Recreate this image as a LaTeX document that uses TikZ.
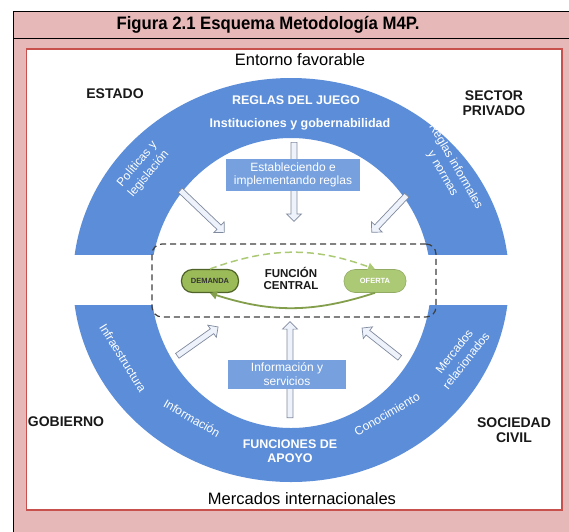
\documentclass[tikz,border=0pt]{standalone}
\usepackage{fontspec}
\setmainfont{Liberation Sans}
\newfontfamily\titlefont[FakeStretch=0.93]{Liberation Sans}
\usetikzlibrary{shapes.arrows,arrows.meta,positioning}

\definecolor{rosa}{RGB}{230,185,184}
\definecolor{rojo}{RGB}{200,80,77}
\definecolor{azul}{RGB}{91,141,216}
\definecolor{azulclaro}{RGB}{118,160,222}
\definecolor{verde}{RGB}{155,187,89}
\definecolor{verdeosc}{RGB}{79,98,40}
\definecolor{verdeclaro}{RGB}{172,201,118}
\definecolor{flechaborde}{RGB}{128,138,158}
\definecolor{flechafondo}{RGB}{238,242,250}

\tikzstyle{actor}=[align=center,
    text=black!90,
    font=\fontsize{14}{15.5}\selectfont\bfseries]
\tikzstyle{banda}=[align=center,
    text=white,
    font=\fontsize{12.5}{13.5}\selectfont\bfseries]
\tikzstyle{curva}=[align=center,
    text=white,
    inner sep=1pt,
    font=\fontsize{12}{15}\selectfont]
\tikzstyle{caja}=[rectangle,
    fill=azulclaro,
    text=white,
    align=center,
    inner sep=0pt,
    font=\fontsize{12}{13.5}\selectfont]
\tikzstyle{flecha}=[single arrow,
    draw=flechaborde,
    fill=flechafondo,
    line width=0.7pt,
    inner xsep=0pt,
    inner ysep=2.6pt,
    single arrow head extend=4.5pt,
    single arrow head indent=0pt,
    sloped,
    allow upside down,
    pos=0,
    anchor=tail]
\tikzstyle{mercado}=[rectangle,
    rounded corners=11pt,
    minimum height=23pt,
    inner sep=1pt,
    font=\fontsize{7.5}{8}\selectfont\bfseries]

\begin{document}
\begin{tikzpicture}[x=1pt,y=-1pt]
\useasboundingbox (0,0) rectangle (569,531);

% marco de la figura
\draw[fill=rosa, line width=0.8pt] (13,11) rectangle (585,545);
\draw[line width=0.8pt] (13,38) -- (585,38);
\node (titulo) at (268,25) {\titlefont\fontsize{18}{20}\selectfont\bfseries Figura 2.1 Esquema Metodología M4P.};
\draw[rojo, fill=white, line width=1.6pt] (26.5,49) rectangle (562,510);

% anillo
\fill[azul, even odd rule] (291,280) ellipse [x radius=218, y radius=202]
    (291,283) ellipse [x radius=140, y radius=145];
\fill[white] (60,255) rectangle (525,305);

% actores
\node[font=\fontsize{16.5}{18}\selectfont] (entorno) at (300,60) {Entorno favorable};
\node[font=\fontsize{16.5}{18}\selectfont] (internac) at (302,499) {Mercados internacionales};
\node[actor] (estado) at (115,94) {ESTADO};
\node[actor] (privado) at (494,103) {SECTOR\\PRIVADO};
\node[actor] (gobierno) at (66,422) {GOBIERNO};
\node[actor] (civil) at (514,430) {SOCIEDAD\\CIVIL};

% textos del anillo
\node[banda] (reglas) at (296,100) {REGLAS DEL JUEGO};
\node[banda] (instit) at (300,124) {Instituciones y gobernabilidad};
\node[banda] (apoyo) at (290,451) {FUNCIONES DE\\APOYO};
\node[curva, rotate=50] (politicas) at (143,169) {Políticas y\\legislación};
\node[curva, rotate=-60] (informales) at (449,170) {Reglas informales\\y normas};
\node[curva, rotate=-58] (infra) at (123,358) {Infraestructura};
\node[curva, rotate=-30] (informacion) at (192,418) {Información};
\node[curva, rotate=30] (conoc) at (387,414) {Conocimiento};
\node[curva, rotate=52] (relac) at (460,356) {Mercados\\relacionados};

% flechas hacia la funcion central
\coordinate (t1) at (180,190); \coordinate (h1) at (224,232);
\coordinate (t2) at (294,142); \coordinate (h2) at (294,221);
\coordinate (t3) at (407,195); \coordinate (h3) at (372,232);
\coordinate (t4) at (177,356); \coordinate (h4) at (218,327);
\coordinate (t5) at (290,418); \coordinate (h5) at (290,322);
\coordinate (t6) at (400,358); \coordinate (h6) at (362,328);
\path (t1) -- node[flecha, minimum height=61] (f1) {} (h1);
\path (t2) -- node[flecha, minimum height=79] (f2) {} (h2);
\path (t3) -- node[flecha, minimum height=51] (f3) {} (h3);
\path (t4) -- node[flecha, minimum height=50] (f4) {} (h4);
\path (t5) -- node[flecha, minimum height=96] (f5) {} (h5);
\path (t6) -- node[flecha, minimum height=48] (f6) {} (h6);

\node[caja, minimum width=134, minimum height=32] (establece) at (293,175) {Estableciendo e\\implementando reglas};
\node[caja, minimum width=118, minimum height=29] (servicios) at (287,374) {Información y\\servicios};

% funcion central
\node[draw=black!75, dashed, dash pattern=on 6pt off 4pt, line width=1.2pt, rounded corners=10pt,
    minimum width=284, minimum height=73] (nucleo) at (294,280.5) {};
\node[font=\fontsize{11.5}{12}\selectfont\bfseries, align=center, text=black!90] (funcion) at (291,278) {FUNCIÓN\\CENTRAL};
\node[mercado, draw=verdeosc, fill=verde, line width=1.2pt, minimum width=57, text=black!80] (demanda) at (210,281) {DEMANDA};
\node[mercado, fill=verdeclaro, draw=verdeclaro!85!black, line width=0.6pt, minimum width=62, text=white] (oferta) at (375,281) {OFERTA};
\draw[verdeclaro, dashed, dash pattern=on 7pt off 4pt, line width=1.5pt, -{Triangle[length=7pt,width=8pt]}]
    (demanda.north) to[bend left=20] (oferta.north);
\draw[verde!85!black, line width=1.8pt, -{Triangle[length=7pt,width=8pt]}]
    (oferta.south) to[bend left=18] (demanda.south);
\end{tikzpicture}
\end{document}
